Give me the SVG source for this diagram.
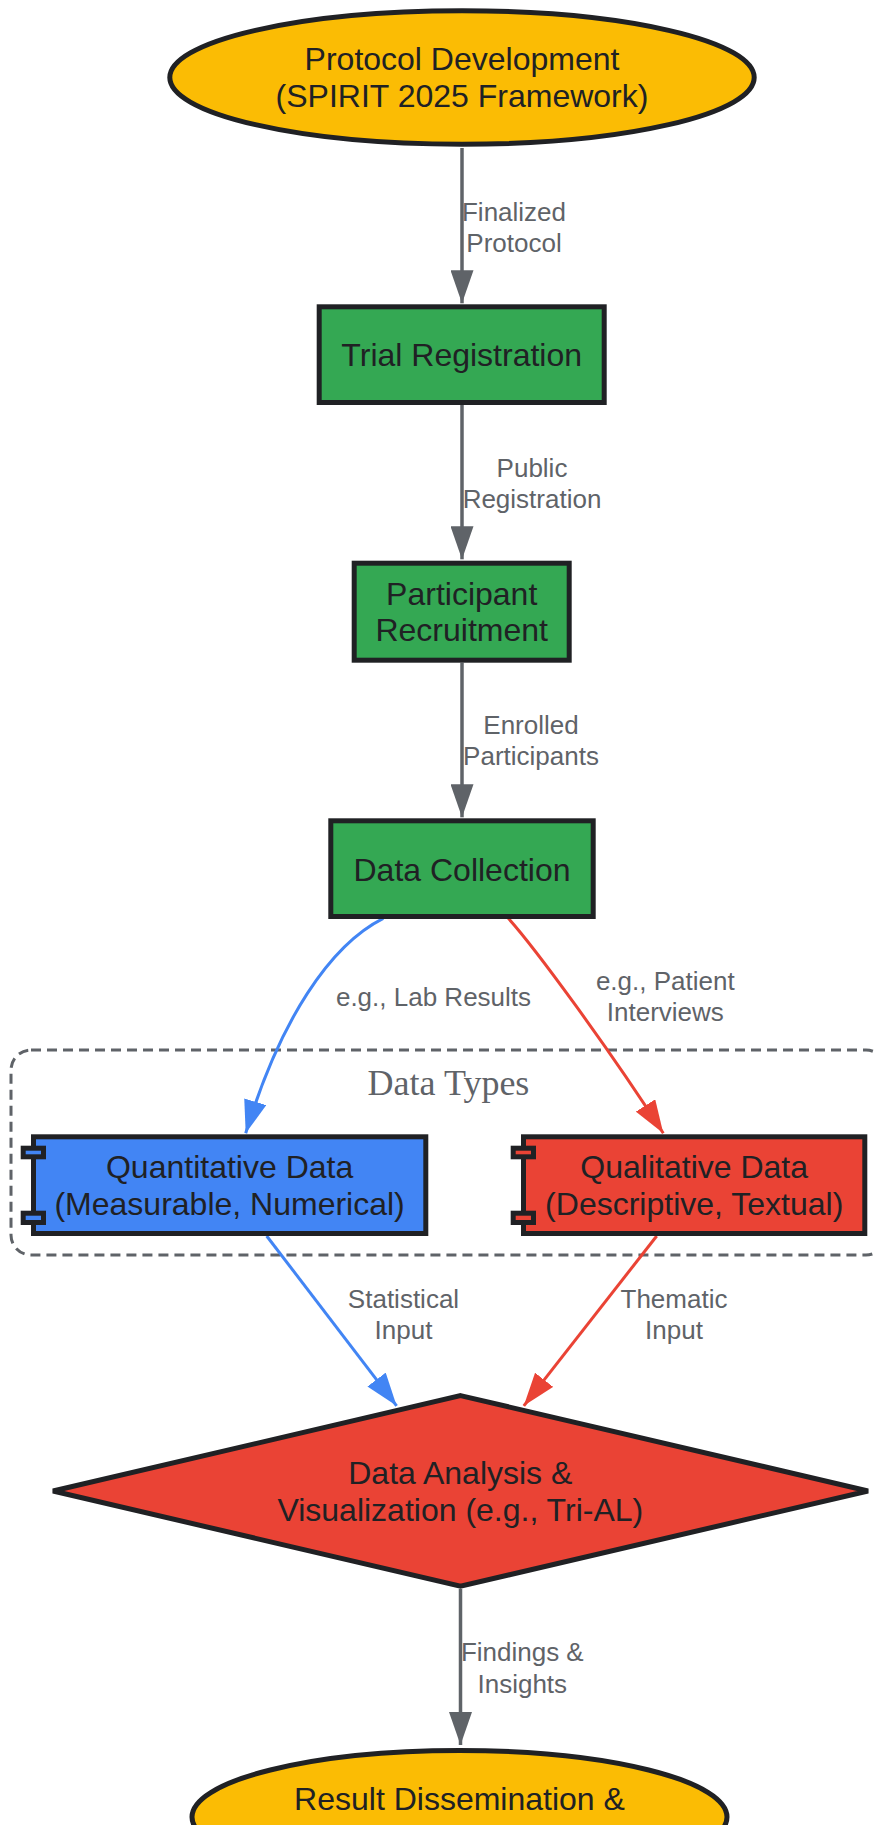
<svg xmlns="http://www.w3.org/2000/svg" width="877" height="1825" viewBox="0 0 877 1825">
<style>
.node-text{font-family:"Liberation Sans",Arial,sans-serif;font-size:32px;fill:#202124;text-anchor:middle}
.edge-label{font-family:"Liberation Sans",Arial,sans-serif;font-size:26px;fill:#5f6368;text-anchor:middle}
.cluster-title{font-family:"Liberation Serif","Times New Roman",serif;font-size:36px;fill:#5f6368;text-anchor:middle}
.outline{stroke:#202124;stroke-width:5}
.yellow{fill:#FBBC04}
.green{fill:#34A853}
.blue{fill:#4285F4}
.red{fill:#EA4335}
.edge-gray{fill:none;stroke:#5f6368;stroke-width:3.5}
.edge-blue{fill:none;stroke:#4285F4;stroke-width:3}
.edge-red{fill:none;stroke:#EA4335;stroke-width:3}
</style>
<defs>
<marker id="ah-gray" viewBox="0 0 33 23" refX="33" refY="11.5" markerWidth="33" markerHeight="23" markerUnits="userSpaceOnUse" orient="auto" preserveAspectRatio="none"><path d="M0,0 L33,11.5 L0,23 z" fill="#5f6368"/></marker>
<marker id="ah-blue" viewBox="0 0 33 23" refX="33" refY="11.5" markerWidth="33" markerHeight="23" markerUnits="userSpaceOnUse" orient="auto" preserveAspectRatio="none"><path d="M0,0 L33,11.5 L0,23 z" fill="#4285F4"/></marker>
<marker id="ah-red" viewBox="0 0 33 23" refX="33" refY="11.5" markerWidth="33" markerHeight="23" markerUnits="userSpaceOnUse" orient="auto" preserveAspectRatio="none"><path d="M0,0 L33,11.5 L0,23 z" fill="#EA4335"/></marker>
</defs>

<g id="cluster-data-types">
<rect x="11" y="1050" width="875" height="205" rx="20" ry="20" fill="none" stroke="#5f6368" stroke-width="3" stroke-dasharray="10,6"/>
<text class="cluster-title" x="448.5" y="1095">Data Types</text>
</g>

<g id="connectors">
<path class="edge-gray" d="M462,148 L462,303.3" marker-end="url(#ah-gray)"/>
<path class="edge-gray" d="M462,405 L462,559.3" marker-end="url(#ah-gray)"/>
<path class="edge-gray" d="M462,662.7 L462,817.3" marker-end="url(#ah-gray)"/>
<path class="edge-blue" d="M383.3,918.3 C330,945 280,1020 245.7,1133.3" marker-end="url(#ah-blue)"/>
<path class="edge-red" d="M508.3,918.3 C535,948 610,1050 663.3,1133.3" marker-end="url(#ah-red)"/>
<path class="edge-blue" d="M266.7,1236 L396.6,1405.8" marker-end="url(#ah-blue)"/>
<path class="edge-red" d="M656.7,1236 L523.8,1405.8" marker-end="url(#ah-red)"/>
<path class="edge-gray" d="M460.5,1589 L460.5,1745" marker-end="url(#ah-gray)"/>
<text class="edge-label" x="514" y="221">Finalized</text>
<text class="edge-label" x="514" y="252">Protocol</text>
<text class="edge-label" x="532" y="477">Public</text>
<text class="edge-label" x="532" y="508">Registration</text>
<text class="edge-label" x="531" y="734">Enrolled</text>
<text class="edge-label" x="531" y="765">Participants</text>
<text class="edge-label" x="433.5" y="1006">e.g., Lab Results</text>
<text class="edge-label" x="665.3" y="989.5">e.g., Patient</text>
<text class="edge-label" x="665.3" y="1020.7">Interviews</text>
<text class="edge-label" x="403.5" y="1308">Statistical</text>
<text class="edge-label" x="403.5" y="1339">Input</text>
<text class="edge-label" x="674" y="1308">Thematic</text>
<text class="edge-label" x="674" y="1339">Input</text>
<text class="edge-label" x="522.3" y="1661.3">Findings &amp;</text>
<text class="edge-label" x="522.3" y="1692.6">Insights</text>
</g>

<g id="protocol-development">
<ellipse class="yellow outline" cx="462" cy="77.5" rx="292.2" ry="66.7"/>
<text class="node-text" x="462" y="70.3">Protocol Development</text>
<text class="node-text" x="462" y="107.1">(SPIRIT 2025 Framework)</text>
</g>

<g id="trial-registration">
<rect class="green outline" x="319.2" y="306.8" width="285" height="95.7"/>
<text class="node-text" x="461.7" y="366">Trial Registration</text>
</g>

<g id="participant-recruitment">
<rect class="green outline" x="354.2" y="563.2" width="215" height="97"/>
<text class="node-text" x="461.7" y="604.5">Participant</text>
<text class="node-text" x="461.7" y="641.3">Recruitment</text>
</g>

<g id="data-collection">
<rect class="green outline" x="330.8" y="820.8" width="262.4" height="95.7"/>
<text class="node-text" x="462" y="880.8">Data Collection</text>
</g>

<g id="quantitative-data">
<rect class="blue outline" x="33.5" y="1136.8" width="392.3" height="96.7"/>
<rect class="blue outline" x="23.2" y="1148.2" width="20.3" height="8.6"/>
<rect class="blue outline" x="23.2" y="1213.2" width="20.3" height="9.3"/>
<text class="node-text" x="229.6" y="1178">Quantitative Data</text>
<text class="node-text" x="229.6" y="1214.8">(Measurable, Numerical)</text>
</g>

<g id="qualitative-data">
<rect class="red outline" x="523.5" y="1136.8" width="341.3" height="96.7"/>
<rect class="red outline" x="513.2" y="1148.2" width="20.3" height="8.6"/>
<rect class="red outline" x="513.2" y="1213.2" width="20.3" height="9.3"/>
<text class="node-text" x="694.2" y="1178">Qualitative Data</text>
<text class="node-text" x="694.2" y="1214.8">(Descriptive, Textual)</text>
</g>

<g id="data-analysis">
<polygon class="red outline" points="460.5,1395.6 868,1491 460.5,1586.2 53,1491"/>
<text class="node-text" x="460.3" y="1484.1">Data Analysis &amp;</text>
<text class="node-text" x="460.3" y="1520.9">Visualization (e.g., Tri-AL)</text>
</g>

<g id="result-dissemination">
<ellipse class="yellow outline" cx="459.5" cy="1817" rx="267.5" ry="66.5"/>
<text class="node-text" x="459.5" y="1810">Result Dissemination &amp;</text>
</g>
</svg>
